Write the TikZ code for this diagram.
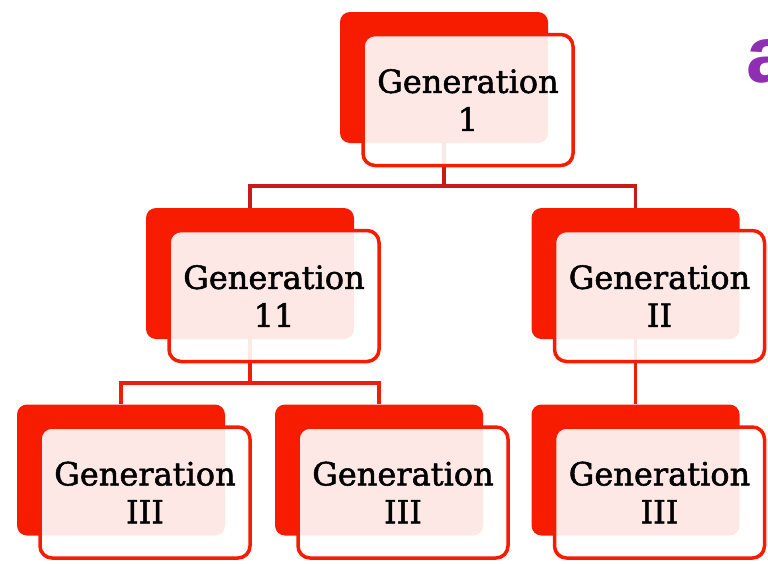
\documentclass[tikz,border=0pt]{standalone}
\usepackage{fontspec}
\setmainfont{DejaVu Serif}
\newfontfamily\gentext{DejaVu Serif}[FakeBold=1.6]
\newfontfamily\slidesans{Liberation Sans}
\usepackage{tikz}
\usetikzlibrary{calc,positioning}

\definecolor{boxred}{RGB}{247,27,0}
\definecolor{linkdark}{RGB}{200,26,24}
\definecolor{linkred}{RGB}{236,30,10}
\definecolor{slidepurple}{RGB}{142,46,178}

\tikzset{
  backbox/.style={fill=boxred,rounded corners=10pt,minimum width=208pt,minimum height=131pt,inner sep=0pt},
  frontbox/.style={draw=boxred,line width=3.5pt,fill=white,fill opacity=0.9,text opacity=1,
    rounded corners=12pt,minimum width=210pt,minimum height=131pt,inner sep=0pt,
    align=center,font=\gentext\fontsize{32}{38}\selectfont},
  link/.style={line width=3.5pt,linkred},
}

\begin{document}
\begin{tikzpicture}[x=1pt,y=-1pt]
\useasboundingbox (0,0) rectangle (768,563);
\clip (0,0) rectangle (768,563);
% red boxes behind
\node[backbox] (b1) at (444,77.5) {};
\node[backbox] (b21) at (250,273.5) {};
\node[backbox] (b22) at (635.5,273.5) {};
\node[backbox] (b31) at (121,470) {};
\node[backbox] (b32) at (379,470) {};
\node[backbox] (b33) at (635.5,470) {};
% tree lines
\draw[link,linkdark] (b1.south) -- ++(0,43) coordinate (j1);
\draw[link,linkdark] (j1) -| (b21.north);
\draw[link,linkdark] (j1) -| (b22.north);
\draw[link] (b21.south) -- ++(0,44) coordinate (j2);
\draw[link] (j2) -| (b31.north);
\draw[link] (j2) -| (b32.north);
\draw[link] (b22.south) -- (b33.north);
% text boxes in front
\node[frontbox] (g1) at ($(b1)+(24,22.5)$) {Generation\\1};
\node[frontbox] (g21) at ($(b21)+(24,22.5)$) {Generation\\11};
\node[frontbox] (g22) at ($(b22)+(24,22.5)$) {Generation\\II};
\node[frontbox] (g31) at ($(b31)+(24,22.5)$) {Generation\\III};
\node[frontbox] (g32) at ($(b32)+(24,22.5)$) {Generation\\III};
\node[frontbox] (g33) at ($(b33)+(24,22.5)$) {Generation\\III};
\node[anchor=base west,inner sep=0pt,text=slidepurple,font=\slidesans\bfseries\fontsize{80}{80}\selectfont] (side) at (746,82) {a};
\end{tikzpicture}
\end{document}
